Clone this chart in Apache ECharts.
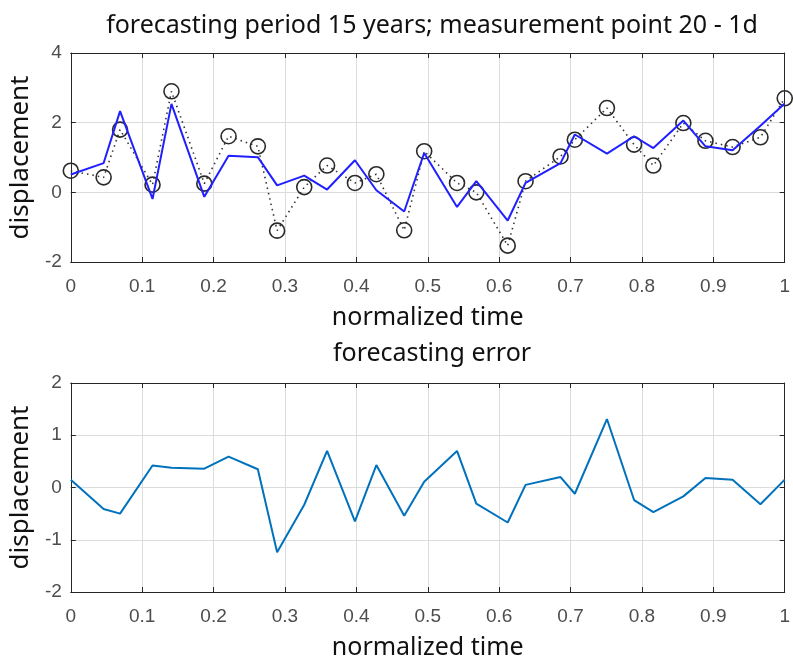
<!DOCTYPE html>
<html>
<head>
<meta charset="utf-8">
<script src="https://cdn.jsdelivr.net/npm/echarts@6/dist/echarts.min.js"></script>
<style>
  html, body { margin: 0; padding: 0; background: #fff; }
  #chart { width: 793px; height: 666px; }
</style>
</head>
<body>
<div id="chart"></div>
<script>
// normalized time of each measurement
var times = [0, 0.046, 0.069, 0.1145, 0.141, 0.187, 0.221, 0.262, 0.289, 0.327,
  0.359, 0.398, 0.428, 0.467, 0.495, 0.541, 0.568, 0.612, 0.637, 0.686,
  0.706, 0.751, 0.789, 0.816, 0.858, 0.889, 0.927, 0.966, 1];
// measured displacement (circles)
var measured = [0.62, 0.43, 1.80, 0.22, 2.90, 0.25, 1.61, 1.32, -1.10, 0.15,
  0.77, 0.27, 0.52, -1.09, 1.18, 0.27, 0.00, -1.53, 0.32, 1.03,
  1.51, 2.42, 1.37, 0.77, 1.99, 1.48, 1.30, 1.58, 2.70];
// forecast displacement (blue line)
var forecast = [0.51, 0.84, 2.33, -0.19, 2.54, -0.13, 1.05, 1.01, 0.20, 0.48,
  0.08, 0.92, 0.06, -0.55, 1.13, -0.42, 0.32, -0.81, 0.27, 0.84,
  1.66, 1.11, 1.61, 1.27, 2.06, 1.32, 1.21, 1.91, 2.55];
// forecasting error
var errors = [0.15, -0.41, -0.50, 0.42, 0.38, 0.36, 0.59, 0.35, -1.24, -0.33,
  0.70, -0.65, 0.43, -0.54, 0.11, 0.70, -0.31, -0.67, 0.05, 0.20,
  -0.12, 1.31, -0.24, -0.47, -0.17, 0.18, 0.15, -0.32, 0.15];

function pairs(ys) {
  return times.map(function (t, i) { return [t, ys[i]]; });
}

var boxColor = '#262626';
var tickFont = {
  fontFamily: 'Liberation Sans, Arial, sans-serif',
  fontSize: 19,
  color: '#4d4d4d',
};
var textFont = 'Noto Sans, sans-serif';

function xAxes(gridIndex) {
  return [
    {
      type: 'value', gridIndex: gridIndex, min: 0, max: 1, interval: 0.1,
      position: 'bottom',
      name: 'normalized time', nameLocation: 'middle', nameGap: 43,
      nameTextStyle: { fontFamily: textFont, fontSize: 25, color: '#111' },
      axisLine: { show: true, onZero: false, lineStyle: { color: boxColor, width: 1 } },
      axisTick: { show: true, inside: true, length: 5, lineStyle: { color: boxColor } },
      axisLabel: Object.assign({ margin: 15 }, tickFont),
      splitLine: { show: true, lineStyle: { color: '#dcdcdc', width: 1 } },
    },
    {
      type: 'value', gridIndex: gridIndex, min: 0, max: 1, interval: 0.1,
      position: 'top',
      axisLine: { show: true, onZero: false, lineStyle: { color: boxColor, width: 1 } },
      axisTick: { show: true, inside: true, length: 5, lineStyle: { color: boxColor } },
      axisLabel: { show: false },
      splitLine: { show: false },
    },
  ];
}

function yAxes(gridIndex, min, max, interval) {
  return [
    {
      type: 'value', gridIndex: gridIndex, min: min, max: max, interval: interval,
      position: 'left',
      name: 'displacement', nameLocation: 'middle', nameGap: 23,
      nameTextStyle: { fontFamily: textFont, fontSize: 26, color: '#111' },
      axisLine: { show: true, onZero: false, lineStyle: { color: boxColor, width: 1 } },
      axisTick: { show: true, inside: true, length: 5, lineStyle: { color: boxColor } },
      axisLabel: Object.assign({ margin: 9 }, tickFont),
      splitLine: { show: true, lineStyle: { color: '#dcdcdc', width: 1 } },
    },
    {
      type: 'value', gridIndex: gridIndex, min: min, max: max, interval: interval,
      position: 'right',
      axisLine: { show: true, onZero: false, lineStyle: { color: boxColor, width: 1 } },
      axisTick: { show: true, inside: true, length: 5, lineStyle: { color: boxColor } },
      axisLabel: { show: false },
      splitLine: { show: false },
    },
  ];
}

var option = {
  backgroundColor: '#fff',
  animation: false,
  title: [
    {
      text: 'forecasting period 15 years; measurement point 20 - 1d',
      left: 427, top: 8, textAlign: 'center',
      textStyle: { fontFamily: textFont, fontSize: 25, fontWeight: 'normal', color: '#111' },
    },
    {
      text: 'forecasting error',
      left: 427, top: 336, textAlign: 'center',
      textStyle: { fontFamily: textFont, fontSize: 25, fontWeight: 'normal', color: '#111' },
    },
  ],
  grid: [
    { left: 70, right: 1, top: 53, height: 209 },
    { left: 70, right: 1, top: 383, height: 209 },
  ],
  xAxis: xAxes(0).concat(xAxes(1)),
  yAxis: yAxes(0, -2, 4, 2).concat(yAxes(1, -2, 2, 1)),
  series: [
    {
      type: 'line', name: 'measured',
      xAxisIndex: 0, yAxisIndex: 0,
      data: pairs(measured),
      symbol: 'circle', symbolSize: 15,
      itemStyle: { color: 'rgba(0,0,0,0)', borderColor: '#2a2a2a', borderWidth: 1.6 },
      lineStyle: { color: '#333', width: 1.6, type: [1.5, 4] },
      z: 2,
    },
    {
      type: 'line', name: 'forecast',
      xAxisIndex: 0, yAxisIndex: 0,
      data: pairs(forecast),
      showSymbol: false, symbol: 'none',
      lineStyle: { color: '#2020ff', width: 2 },
      z: 3,
    },
    {
      type: 'line', name: 'error',
      xAxisIndex: 2, yAxisIndex: 2,
      data: pairs(errors),
      showSymbol: false, symbol: 'none',
      lineStyle: { color: '#0072bd', width: 2 },
    },
  ],
};

var chart = echarts.init(document.getElementById('chart'));
chart.setOption(option);
</script>
</body>
</html>
